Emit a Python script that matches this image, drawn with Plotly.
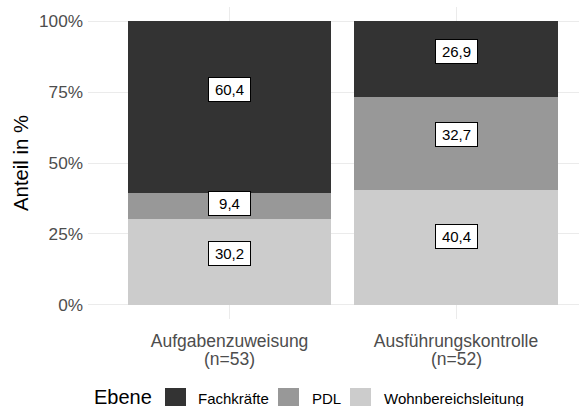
import plotly.graph_objects as go

category_names = ["Aufgabenzuweisung", "Ausführungskontrolle"]
category_n = ["(n=53)", "(n=52)"]
levels = ["Wohnbereichsleitung", "PDL", "Fachkräfte"]  # bottom to top in stack
legend_order = ["Fachkräfte", "PDL", "Wohnbereichsleitung"]
values = {
    "Wohnbereichsleitung": [30.2, 40.4],
    "PDL": [9.4, 32.7],
    "Fachkräfte": [60.4, 26.9],
}
colors = {"Fachkräfte": "#333333", "PDL": "#989898", "Wohnbereichsleitung": "#cccccc"}
y_ticks = [0, 25, 50, 75, 100]
LABEL_VJUST = 0.6  # label placement within each stacked segment

FONT = "Liberation Sans"
W, H = 579, 406
ML, MR, MT, MB = 88, 0, 7, 87
PW, PH = W - ML - MR, H - MT - MB


def px_x(px):
    return (px - ML) / PW


def px_y(py):
    return (H - MB - py) / PH


xpos = list(range(len(category_names)))
fig = go.Figure()
for lvl in levels:
    fig.add_trace(go.Bar(x=xpos, y=values[lvl], name=lvl, marker_color=colors[lvl],
                         marker_line_width=0, width=0.9, showlegend=False,
                         hoverinfo="skip"))

# value labels within segments
cum = [0] * len(category_names)
for lvl in levels:
    for i, v in enumerate(values[lvl]):
        ypos = cum[i] + v * LABEL_VJUST
        cum[i] += v
        fig.add_annotation(x=xpos[i], y=ypos, text=f"{v:.1f}".replace(".", ","),
                           showarrow=False, bgcolor="white", bordercolor="black",
                           borderwidth=1, borderpad=3, width=35,
                           font=dict(size=15, color="black", family=FONT))

# second line of category labels
for i, n in enumerate(category_n):
    fig.add_annotation(x=xpos[i], xref="x", yref="paper", y=px_y(359),
                       yanchor="middle", showarrow=False, text=n,
                       font=dict(size=17.5, color="#4d4d4d", family=FONT))

# legend (ggplot-style, bottom)
fig.add_annotation(xref="paper", yref="paper", x=px_x(92), y=px_y(397),
                   xanchor="left", yanchor="middle", showarrow=False, text="Ebene",
                   font=dict(size=20, color="black", family=FONT))
key_left = [165, 278, 350]
text_left = [196, 310, 382]
for name, kx, tx in zip(legend_order, key_left, text_left):
    fig.add_shape(type="rect", xref="paper", yref="paper",
                  x0=px_x(kx), x1=px_x(kx + 21), y0=px_y(388), y1=px_y(409),
                  fillcolor=colors[name], line_width=0)
    fig.add_annotation(xref="paper", yref="paper", x=px_x(tx), y=px_y(398),
                       xanchor="left", yanchor="middle", showarrow=False, text=name,
                       font=dict(size=15, color="black", family=FONT))

fig.update_layout(
    width=W, height=H,
    barmode="stack",
    plot_bgcolor="white", paper_bgcolor="white",
    margin=dict(l=ML, r=MR, t=MT, b=MB, autoexpand=False),
    font=dict(family=FONT, color="#4d4d4d", size=17),
    showlegend=False,
    hovermode=False,
    xaxis=dict(range=[-0.625, 1.543], tickvals=xpos, ticktext=category_names,
               showgrid=True, gridcolor="#ebebeb", gridwidth=1.2, zeroline=False,
               ticks="", ticklabelstandoff=9,
               tickfont=dict(size=17.5, color="#4d4d4d", family=FONT)),
    yaxis=dict(range=[-5, 105], tickvals=y_ticks, ticktext=[f"{t}%" for t in y_ticks],
               showgrid=True, gridcolor="#ebebeb", gridwidth=1.2, zeroline=False,
               ticks="", ticklabelstandoff=4,
               tickfont=dict(size=17.2, color="#4d4d4d", family=FONT),
               title=dict(text="Anteil in %", font=dict(size=20.3, color="black", family=FONT),
                          standoff=4)),
)

fig.write_html("out.html", config={"displayModeBar": False},
               post_script="document.body.style.margin='0';document.body.style.overflow='hidden';")
